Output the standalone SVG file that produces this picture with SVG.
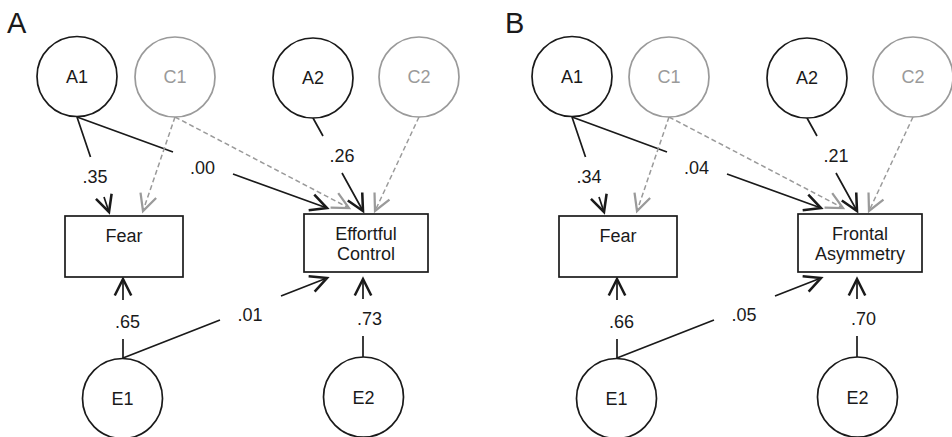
<svg xmlns="http://www.w3.org/2000/svg" width="952" height="437" viewBox="0 0 952 437">
<style>
text{font-family:"Liberation Sans",Arial,sans-serif;font-size:18px;text-anchor:middle;fill:#1a1a1a}
.panel{font-size:29px;text-anchor:start}
.lat{fill:#fff;stroke:#1a1a1a;stroke-width:1.7}
.latg{fill:#fff;stroke:#9a9a9a;stroke-width:1.7}
.gt{fill:#9a9a9a}
.obs{fill:#fff;stroke:#1a1a1a;stroke-width:1.7}
.p{fill:none;stroke:#1a1a1a;stroke-width:1.7;marker-end:url(#ab)}
.pn{fill:none;stroke:#1a1a1a;stroke-width:1.7}
.d{fill:none;stroke:#9a9a9a;stroke-width:1.5;stroke-dasharray:5 3;marker-end:url(#ag)}
</style>
<defs>
<marker id="ab" markerUnits="userSpaceOnUse" markerWidth="24" markerHeight="24" viewBox="-14 -8 16 16" refX="0" refY="0" orient="auto" overflow="visible">
<path d="M-11,-5.5 L0,0 L-11,5.5" fill="none" stroke="#1a1a1a" stroke-width="1.7"/>
</marker>
<marker id="ag" markerUnits="userSpaceOnUse" markerWidth="24" markerHeight="24" viewBox="-14 -8 16 16" refX="0" refY="0" orient="auto" overflow="visible">
<path d="M-11,-5.5 L0,0 L-11,5.5" fill="none" stroke="#9a9a9a" stroke-width="1.5"/>
</marker>
</defs>

<g id="panelA">
<text class="panel" x="7" y="33">A</text>
<g id="connectorsA">
<path class="p" d="M77,117 L90.5,157 M104,197 L109,212"/>
<path class="p" d="M77,117 L173,152 M233,174 L327,208"/>
<path class="d" d="M175,117 L143,211"/>
<path class="d" d="M175,117 L349,208"/>
<path class="p" d="M313,118 L323,136 M342,173 L363,211"/>
<path class="d" d="M419,117 L375,211"/>
<path class="p" d="M123,358 L123,339 M123,300 L123,279"/>
<path class="p" d="M123,358 L220,320 M281,296 L327,278"/>
<path class="p" d="M363,357 L363,336 M363,299 L363,279"/>
<text x="95" y="183">.35</text>
<text x="202.5" y="174">.00</text>
<text x="342" y="162">.26</text>
<text x="127.5" y="328">.65</text>
<text x="250" y="321">.01</text>
<text x="369.5" y="325">.73</text>
</g>
<g id="A_A1"><circle class="lat" cx="77" cy="76.5" r="40"/><text x="77" y="83">A1</text></g>
<g id="A_C1"><circle class="latg" cx="175" cy="77" r="40"/><text class="gt" x="175" y="83">C1</text></g>
<g id="A_A2"><circle class="lat" cx="313" cy="78" r="40"/><text x="313" y="84">A2</text></g>
<g id="A_C2"><circle class="latg" cx="419" cy="77" r="40"/><text class="gt" x="419" y="83">C2</text></g>
<g id="A_Fear"><rect class="obs" x="65" y="216" width="118" height="61"/><text x="124" y="242">Fear</text></g>
<g id="A_EC"><rect class="obs" x="304" y="214" width="124" height="58"/><text x="366" y="240">Effortful</text><text x="366" y="260">Control</text></g>
<g id="A_E1"><circle class="lat" cx="122.5" cy="398.5" r="40"/><text x="122.5" y="405">E1</text></g>
<g id="A_E2"><circle class="lat" cx="363.5" cy="397" r="40"/><text x="363.5" y="404">E2</text></g>
</g>

<g id="panelB" transform="translate(494,0)">
<text class="panel" x="11" y="33">B</text>
<g id="connectorsB">
<path class="p" d="M78,117 L91.5,157 M105,197 L110,212"/>
<path class="p" d="M78,117 L173,152 M233,174 L327,208"/>
<path class="d" d="M175,117 L143,211"/>
<path class="d" d="M175,117 L349,208"/>
<path class="p" d="M313,118 L323,136 M342,173 L363,211"/>
<path class="d" d="M419,117 L375,211"/>
<path class="p" d="M123,358 L123,339 M123,300 L123,279"/>
<path class="p" d="M123,358 L220,320 M281,296 L327,278"/>
<path class="p" d="M363,357 L363,336 M363,299 L363,279"/>
<text x="95" y="183">.34</text>
<text x="202.5" y="174">.04</text>
<text x="342" y="162">.21</text>
<text x="127.5" y="328">.66</text>
<text x="250" y="321">.05</text>
<text x="369.5" y="325">.70</text>
</g>
<g id="B_A1"><circle class="lat" cx="78" cy="76.5" r="40"/><text x="78" y="83">A1</text></g>
<g id="B_C1"><circle class="latg" cx="175" cy="77" r="40"/><text class="gt" x="175" y="83">C1</text></g>
<g id="B_A2"><circle class="lat" cx="313" cy="78" r="40"/><text x="313" y="84">A2</text></g>
<g id="B_C2"><circle class="latg" cx="419" cy="77" r="40"/><text class="gt" x="419" y="83">C2</text></g>
<g id="B_Fear"><rect class="obs" x="65" y="216" width="118" height="61"/><text x="124" y="242">Fear</text></g>
<g id="B_FA"><rect class="obs" x="304" y="214" width="124" height="58"/><text x="366" y="240">Frontal</text><text x="366" y="260">Asymmetry</text></g>
<g id="B_E1"><circle class="lat" cx="122.5" cy="398.5" r="40"/><text x="122.5" y="405">E1</text></g>
<g id="B_E2"><circle class="lat" cx="363.5" cy="397" r="40"/><text x="363.5" y="404">E2</text></g>
</g>
</svg>
